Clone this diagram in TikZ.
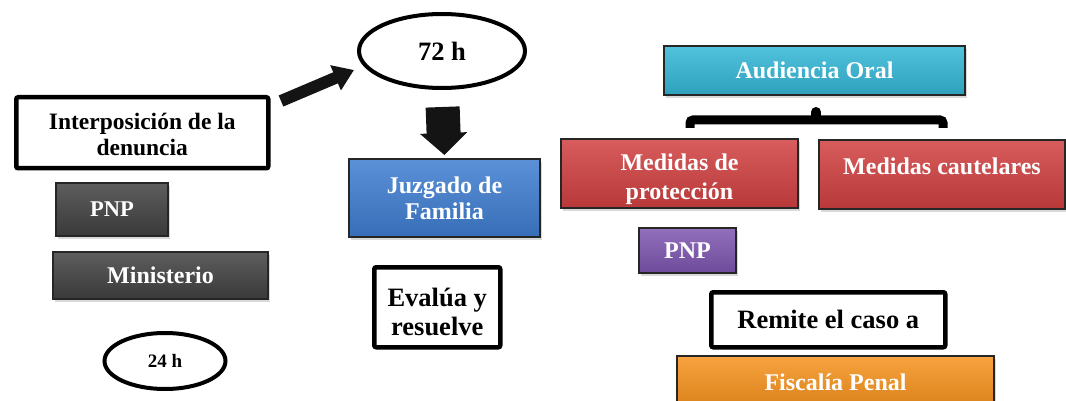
\documentclass[tikz,border=0pt]{standalone}
\usepackage{fontspec}
\setmainfont{Liberation Serif}
\usetikzlibrary{shapes.geometric,arrows.meta,shadows}
\definecolor{dkM}{HTML}{414141}
\definecolor{blM}{HTML}{3E7DD0}
\definecolor{cyM}{HTML}{33B7D6}
\definecolor{rdM}{HTML}{D14040}
\definecolor{puM}{HTML}{7E56B0}
\definecolor{orM}{HTML}{F7931E}
\tikzset{
  cbox/.style={rectangle, draw=black!85, line width=2pt, inner sep=1pt, align=center,
    text=white, anchor=north west,
    font=\bfseries\fontsize{24}{26}\selectfont,
    drop shadow={opacity=0.3, shadow xshift=2pt, shadow yshift=-3pt}},
  glossy/.style={top color=#1!85!white, middle color=#1, bottom color=#1!88!black},
  wbox/.style={rectangle, draw=black, line width=4.5pt, rounded corners=2pt, fill=white,
    inner sep=1pt, align=center, anchor=north west,
    font=\bfseries\fontsize{26.5}{29}\selectfont},
  timebox/.style={ellipse, draw=black, line width=4pt, fill=white, inner sep=0pt,
    font=\bfseries},
  blockarrow/.style={draw=black!92, color=black!92}
}
\begin{document}
\begin{tikzpicture}[x=1pt,y=-1pt]
\useasboundingbox (0,0) rectangle (1066,401);

% left column
\node[wbox, minimum width=252pt, minimum height=71pt, font=\bfseries\fontsize{23.5}{26}\selectfont]
  (interp) at (14,95) {\rule{0pt}{20pt}Interposición de la\\denuncia};
\node[cbox, glossy=dkM, minimum width=112pt, minimum height=53pt, font=\bfseries\fontsize{22.5}{25}\selectfont]
  (pnpA) at (55,182) {PNP};
\node[cbox, glossy=dkM, minimum width=215pt, minimum height=47pt] (mini) at (52,251) {Ministerio};
\node[timebox, minimum width=121pt, minimum height=56pt, font=\bfseries\fontsize{19}{21}\selectfont]
  (h24) at (165,361) {24 h};

% middle column
\node[timebox, minimum width=166pt, minimum height=74pt, font=\bfseries\fontsize{26.5}{29}\selectfont]
  (h72) at (442,51) {72 h};
\node[cbox, glossy=blM, minimum width=191pt, minimum height=78pt] (juz) at (348,158) {Juzgado de\\Familia};
\node[wbox, minimum width=126pt, minimum height=80pt] (eval) at (372,265) {\rule{0pt}{27pt}Evalúa y\\resuelve};

% right column
\node[cbox, glossy=cyM, minimum width=301pt, minimum height=49pt] (aud) at (663,45) {Audiencia Oral};
\node[cbox, glossy=rdM, minimum width=237pt, minimum height=69pt,
  font=\bfseries\fontsize{24}{29}\selectfont]
  (medp) at (560,138) {\rule{0pt}{29pt}Medidas de\\protección};
\node[cbox, glossy=rdM, minimum width=246pt, minimum height=69pt, text depth=17pt] (medc) at (818,139) {Medidas cautelares};
\node[cbox, glossy=puM, minimum width=97pt, minimum height=45pt] (pnpB) at (638,227) {PNP};
\node[wbox, minimum width=234pt, minimum height=55pt] (remite) at (709,290) {Remite el caso a};
\node[cbox, glossy=orM, minimum width=317pt, minimum height=52pt] (fisc) at (676,355) {Fiscalía Penal};

% connectors
\coordinate (dA) at (281,101);
\coordinate (dB) at (354,70);
\draw[blockarrow, line width=12pt, -{Triangle[width=26pt,length=20pt]}] (dA) -- (dB);
\draw[blockarrow, line width=34pt, shorten <=17pt, shorten >=3pt,
  -{Triangle[width=46pt,length=22pt]}] (h72.south) -- (juz.north);

% bracket under Audiencia Oral
\coordinate (brL) at (690,128);
\coordinate (brR) at (943,128);
\draw[line width=9pt, rounded corners=3pt] (brL) -- (690,120) -- (943,120) -- (brR);
\fill (816,112) circle (5pt);
\fill (811,120) rectangle (821,112);
\end{tikzpicture}
\end{document}
